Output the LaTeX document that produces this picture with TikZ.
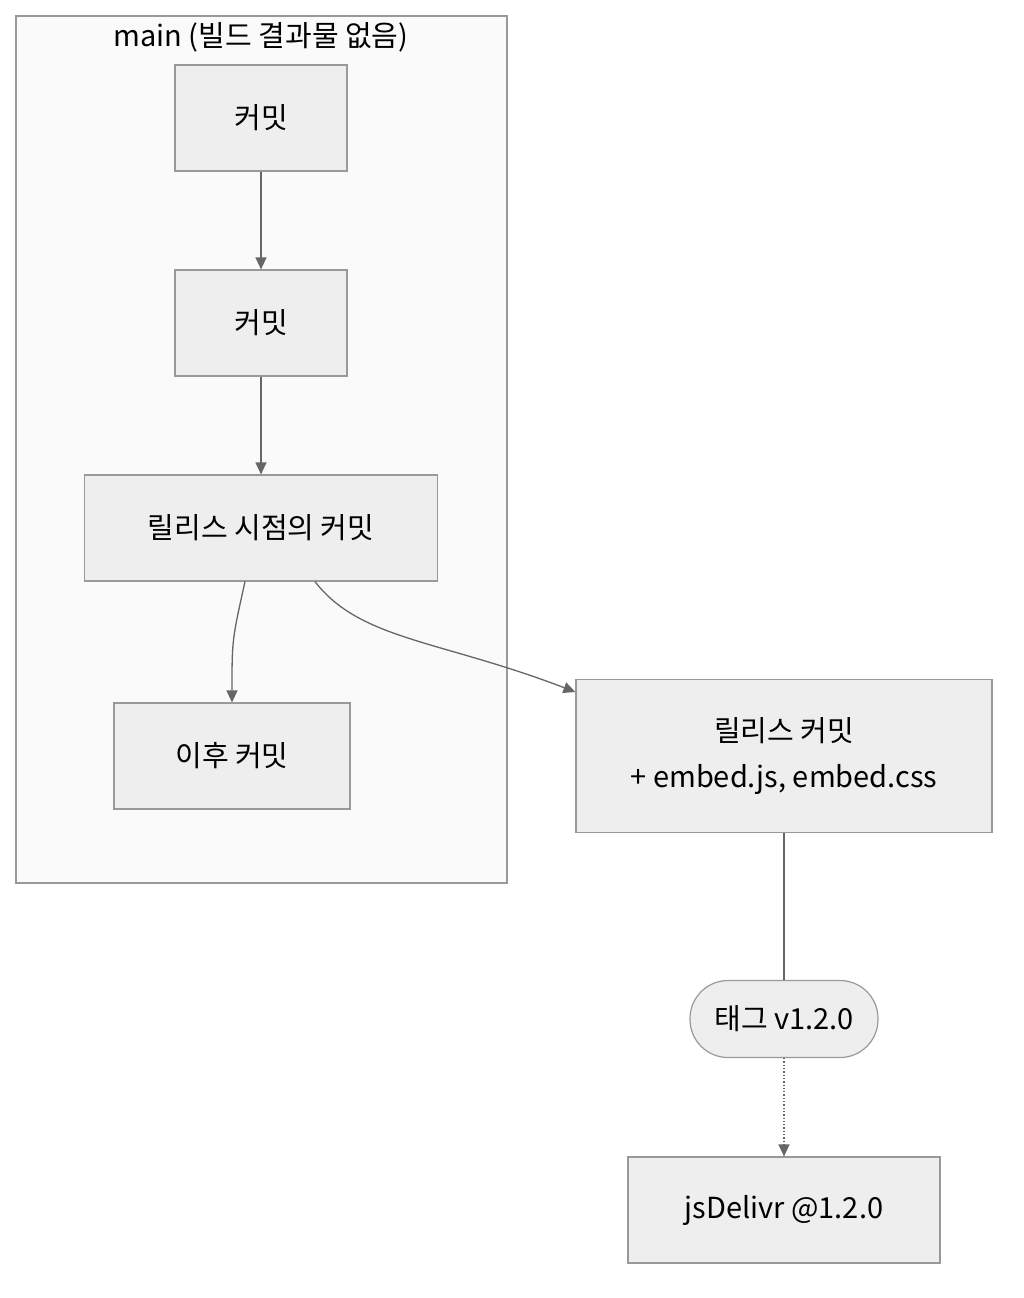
\documentclass[tikz,border=0pt]{standalone}
\usepackage{fontspec}
\setmainfont{Noto Sans CJK KR}
\usetikzlibrary{arrows.meta, positioning}
\definecolor{boxfill}{HTML}{EEEEEE}
\definecolor{boxline}{HTML}{999999}
\definecolor{clusterfill}{HTML}{FAFAFA}
\definecolor{edgecol}{HTML}{666666}

\begin{document}
\begin{tikzpicture}[
    x=1pt, y=-1pt,
    box/.style={draw=boxline, fill=boxfill, rectangle, minimum height=106pt, align=center, font=\fontsize{29}{46}\selectfont, line width=1.2pt},
    pill/.style={draw=boxline, fill=boxfill, rectangle, rounded corners=38pt, minimum height=77pt, minimum width=188pt, font=\fontsize{29}{40}\selectfont, line width=1.2pt},
    arrow/.style={-{Triangle[length=12pt, width=11pt, fill=edgecol]}, draw=edgecol, line width=1.3pt}
]
\useasboundingbox (0,0) rectangle (1024,1298);

% Cluster
\draw[draw=boxline, fill=clusterfill, line width=1.2pt] (16,16) rectangle (507,883);
\node[font=\fontsize{29}{34}\selectfont] (title) at (261,37) {main (빌드 결과물 없음)};

% Commits
\node[box, minimum width=172pt] (c1) at (261,118) {커밋};
\node[box, minimum width=172pt] (c2) at (261,323) {커밋};
\node[box, minimum width=353pt] (rel) at (261,528) {릴리스 시점의 커밋};
\node[box, minimum width=236pt] (after) at (232,756) {이후 커밋};

% Release branch
\node[box, minimum width=416pt, minimum height=153pt] (relc) at (784,756) {릴리스 커밋\\+ embed.js, embed.css};
\node[pill] (tag) at (784,1019) {태그 v1.2.0};
\node[box, minimum width=312pt] (cdn) at (784,1210) {jsDelivr @1.2.0};

% Arrows
\draw[arrow] (rel.south -| 245,0) .. controls (232,640) .. (after.north);
\draw[arrow] (c1) -- (c2);
\draw[arrow] (c2) -- (rel);
\draw[arrow] (rel.south -| 315,0) .. controls (360,640) and (440,640) .. (relc.north west |- 0,692);
\draw[draw=edgecol, line width=1.3pt] (relc) -- (tag);
\draw[arrow, dotted] (tag) -- (cdn);

\end{tikzpicture}
\end{document}
